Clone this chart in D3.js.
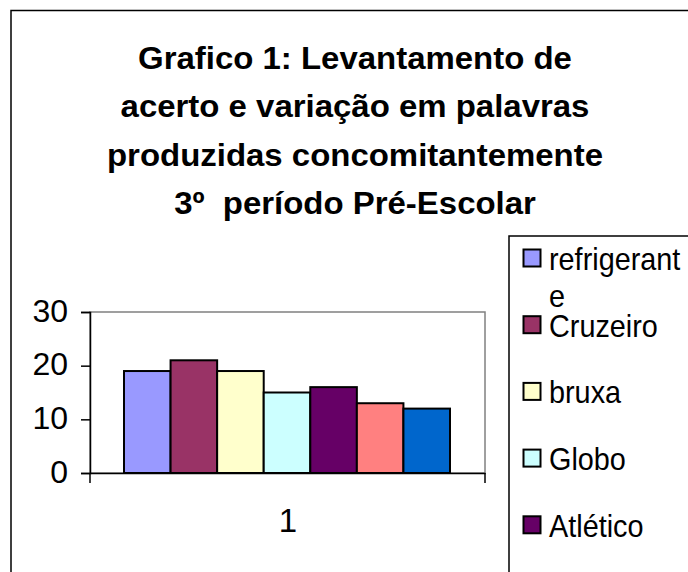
<!DOCTYPE html>
<html>
<head>
<meta charset="utf-8">
<script src="https://cdn.jsdelivr.net/npm/d3@7"></script>
<style>
  html, body { margin: 0; padding: 0; background: #fff; }
  svg { display: block; }
  text { font-family: "Liberation Sans", Arial, sans-serif; fill: #000; }
</style>
</head>
<body>
<svg id="chart" width="688" height="572"></svg>
<script>
// ---- data ----
const titleLines = [
  "Grafico 1: Levantamento de",
  "acerto e variação em palavras",
  "produzidas concomitantemente",
  "3º  período Pré-Escolar"
];
const categories = ["1"];
const seriesNames = ["refrigerante", "Cruzeiro", "bruxa", "Globo", "Atlético", "Série 6", "Série 7"];
const seriesValues = [19, 21, 19, 15, 16, 13, 12];
const seriesColors = ["#9999FF", "#993366", "#FFFFCC", "#CCFFFF", "#660066", "#FF8080", "#0066CC"];
const yTicks = [0, 10, 20, 30];

const svg = d3.select("#chart");

function scaledText(g, x, y, str, size, sx, anchor, weight) {
  return g.append("text")
    .attr("transform", `translate(${x},${y}) scale(${sx},1)`)
    .attr("text-anchor", anchor || "start")
    .attr("font-size", size)
    .attr("font-weight", weight || "normal")
    .attr("xml:space", "preserve")
    .style("white-space", "pre")
    .text(str);
}

// outer chart border
svg.append("rect")
  .attr("x", 11).attr("y", 10.5).attr("width", 700).attr("height", 600)
  .attr("fill", "#fff").attr("stroke", "#000").attr("stroke-width", 1.5);

// title
const title = svg.append("g");
titleLines.forEach((t, i) => {
  scaledText(title, 355, 69 + i * 48.3, t, 32, 1.03, "middle", "bold");
});

// plot area
const plot = { left: 90, right: 485, top: 312, bottom: 473 };
const y = d3.scaleLinear().domain([0, 30]).range([plot.bottom, plot.top]);
const x0 = d3.scaleBand().domain(categories).range([plot.left, plot.right]);
const x1 = d3.scaleBand().domain(seriesNames)
  .range([124 - plot.left, 450 - plot.left]).padding(0);

// plot border (gray)
svg.append("rect")
  .attr("x", plot.left).attr("y", plot.top)
  .attr("width", plot.right - plot.left).attr("height", plot.bottom - plot.top)
  .attr("fill", "#fff").attr("stroke", "#808080").attr("stroke-width", 1.5);

// bars
const barG = svg.append("g").attr("transform", `translate(${x0(categories[0])},0)`);
barG.selectAll("rect").data(seriesNames).join("rect")
  .attr("x", d => x1(d))
  .attr("width", x1.bandwidth())
  .attr("y", (d, i) => y(seriesValues[i]))
  .attr("height", (d, i) => plot.bottom - y(seriesValues[i]))
  .attr("fill", (d, i) => seriesColors[i])
  .attr("stroke", "#000").attr("stroke-width", 2);

// y axis
const yAxis = d3.axisLeft(y).tickValues(yTicks).tickSize(9).tickFormat("");
const yg = svg.append("g").attr("transform", `translate(${plot.left},0)`).call(yAxis);
yg.select(".domain").attr("stroke", "#000").attr("stroke-width", 1.5);
yg.selectAll(".tick line").attr("stroke", "#000").attr("stroke-width", 1.5);
const ylab = svg.append("g");
yTicks.forEach(v => {
  scaledText(ylab, 68, y(v) + 9.5, d3.format("d")(v), 32, 1, "end");
});

// x axis
const xAxis = d3.axisBottom(x0).tickSize(0).tickFormat("");
const xg = svg.append("g").attr("transform", `translate(0,${plot.bottom})`).call(xAxis);
xg.select(".domain").attr("stroke", "#000").attr("stroke-width", 1.5);
svg.append("g").selectAll("line").data([plot.left, plot.right]).join("line")
  .attr("x1", d => d).attr("x2", d => d)
  .attr("y1", plot.bottom).attr("y2", plot.bottom + 10)
  .attr("stroke", "#000").attr("stroke-width", 1.5);
categories.forEach(c => {
  scaledText(svg, x0(c) + x0.bandwidth() / 2 + 0.5, 532, c, 33, 1, "middle");
});

// legend
const lg = svg.append("g");
lg.append("rect")
  .attr("x", 509).attr("y", 236).attr("width", 300).attr("height", 500)
  .attr("fill", "#fff").attr("stroke", "#000").attr("stroke-width", 1.5);
seriesNames.forEach((name, i) => {
  const cy = 258 + i * 66.7;
  lg.append("rect")
    .attr("x", 523.5).attr("y", cy - 8.5).attr("width", 17).attr("height", 17)
    .attr("fill", seriesColors[i]).attr("stroke", "#000").attr("stroke-width", 2);
  const lines = i === 0 ? [name.slice(0, -1), name.slice(-1)] : [name];
  lines.forEach((l, j) => {
    scaledText(lg, 549, cy + 12 + j * 37, l, 31, 0.93, "start");
  });
});
</script>
</body>
</html>
